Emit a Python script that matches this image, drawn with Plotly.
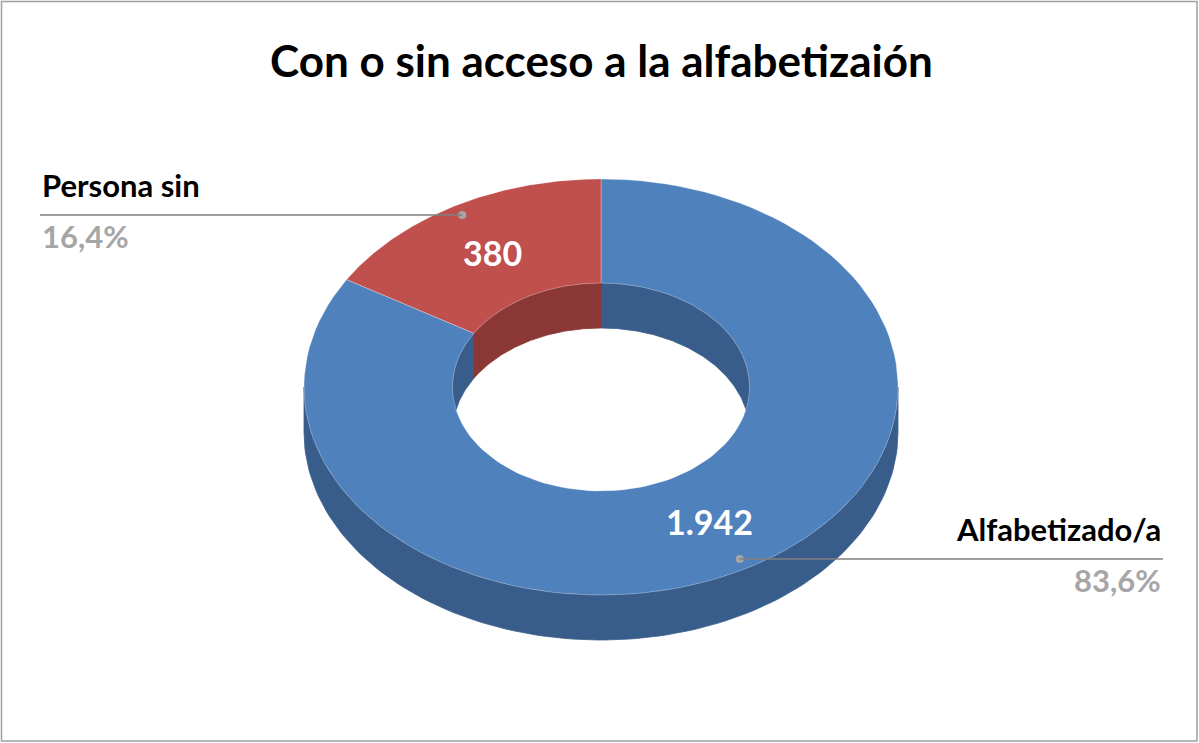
import numpy as np
import plotly.graph_objects as go

# ---- data ----
categories = ["Alfabetizado/a", "Persona sin"]
values = [1942, 380]
value_labels = ["1.942", "380"]
title_text = "Con o sin acceso a la alfabetizaión"

# ---- style ----
top_colors = ["#4F81BD", "#C0504D"]
side_colors = ["#385D8A", "#8A3736"]
FONT = "Lato"
W, H = 1199, 743
cx, cy, rx, ry = 601, 387, 297, 208
hole = 0.5
depth = 45

total = float(sum(values))
fracs = [v / total for v in values]
starts = np.concatenate([[0], np.cumsum(fracs)[:-1]]) * 360.0
ends = starts + np.array(fracs) * 360.0


def arc(t0, t1, r, dz=0.0, n=120):
    t = np.radians(np.linspace(t0, t1, n))
    return cx + r * rx * np.sin(t), cy - r * ry * np.cos(t) + dz


def inter(a0, a1, b0, b1):
    lo, hi = max(a0, b0), min(a1, b1)
    return (lo, hi) if hi > lo else None


fig = go.Figure()


def poly(xs, ys, color, edge=None):
    fig.add_trace(go.Scatter(
        x=list(xs) + [xs[0]], y=list(ys) + [ys[0]], mode="lines", fill="toself",
        fillcolor=color, line=dict(color=edge or color, width=0.8),
        hoverinfo="skip", showlegend=False))


# outer wall (front half: 90..270)
for i in range(len(values)):
    seg = inter(starts[i], ends[i], 90, 270)
    if seg:
        x1, y1 = arc(seg[0], seg[1], 1.0)
        x2, y2 = arc(seg[1], seg[0], 1.0, depth)
        poly(np.concatenate([x1, x2]), np.concatenate([y1, y2]), side_colors[i])

# inner wall (back half: 270..450)
for i in range(len(values)):
    for b0, b1 in [(270, 360), (0, 90)]:
        seg = inter(starts[i], ends[i], b0, b1)
        if seg:
            x1, y1 = arc(seg[0], seg[1], hole)
            x2, y2 = arc(seg[1], seg[0], hole, depth)
            poly(np.concatenate([x1, x2]), np.concatenate([y1, y2]), side_colors[i])

# top faces
for i in range(len(values)):
    x1, y1 = arc(starts[i], ends[i], 1.0)
    x2, y2 = arc(ends[i], starts[i], hole)
    poly(np.concatenate([x1, x2]), np.concatenate([y1, y2]), top_colors[i],
         edge="rgba(255,255,255,0.35)")

annotations = []
shapes = []
for i in range(len(values)):
    mid = (starts[i] + ends[i]) / 2.0
    t = np.radians(mid)
    # value label
    lx, ly = cx + 0.74 * rx * np.sin(t), cy - 0.74 * ry * np.cos(t)
    annotations.append(dict(x=lx, y=ly, text="<b>%s</b>" % value_labels[i], showarrow=False,
                            font=dict(family=FONT, size=34, color="white"),
                            xanchor="center", yanchor="middle"))
    # leader dot
    dx, dy = cx + 0.95 * rx * np.sin(t), cy - 0.95 * ry * np.cos(t)
    left = dx < cx
    ex = 40 if left else 1163
    shapes.append(dict(type="line", x0=dx, y0=dy, x1=ex, y1=dy, xref="x", yref="y",
                       line=dict(color="#7F7F7F", width=1.5)))
    fig.add_trace(go.Scatter(x=[dx], y=[dy], mode="markers",
                             marker=dict(color="#A6A6A6", size=8),
                             hoverinfo="skip", showlegend=False))
    pct = ("%.1f" % (100 * fracs[i])).replace(".", ",") + "%"
    anchor = "left" if left else "right"
    annotations.append(dict(x=ex, y=dy - 30, text="<b>%s</b>" % categories[i], showarrow=False,
                            font=dict(family=FONT, size=31, color="black"),
                            xanchor=anchor, yanchor="middle"))
    annotations.append(dict(x=ex, y=dy + 21, text="<b>%s</b>" % pct, showarrow=False,
                            font=dict(family=FONT, size=31, color="#A6A6A6"),
                            xanchor=anchor, yanchor="middle"))

annotations.append(dict(x=601, y=60, text="<b>%s</b>" % title_text, showarrow=False,
                        font=dict(family=FONT, size=44, color="black"),
                        xanchor="center", yanchor="middle"))

shapes.append(dict(type="rect", xref="x", yref="y", x0=1.5, y0=1.5, x1=1197, y1=741,
                   line=dict(color="#A0A0A0", width=1.5), fillcolor="rgba(0,0,0,0)"))

fig.update_layout(
    width=W, height=H, margin=dict(l=0, r=0, t=0, b=0),
    paper_bgcolor="white", plot_bgcolor="white",
    xaxis=dict(range=[0, W], visible=False, fixedrange=True),
    yaxis=dict(range=[H, 0], visible=False, fixedrange=True),
    annotations=annotations, shapes=shapes, showlegend=False,
)

fig.write_html("out.html", config={"displayModeBar": False},
               post_script="document.body.style.margin='0';")
